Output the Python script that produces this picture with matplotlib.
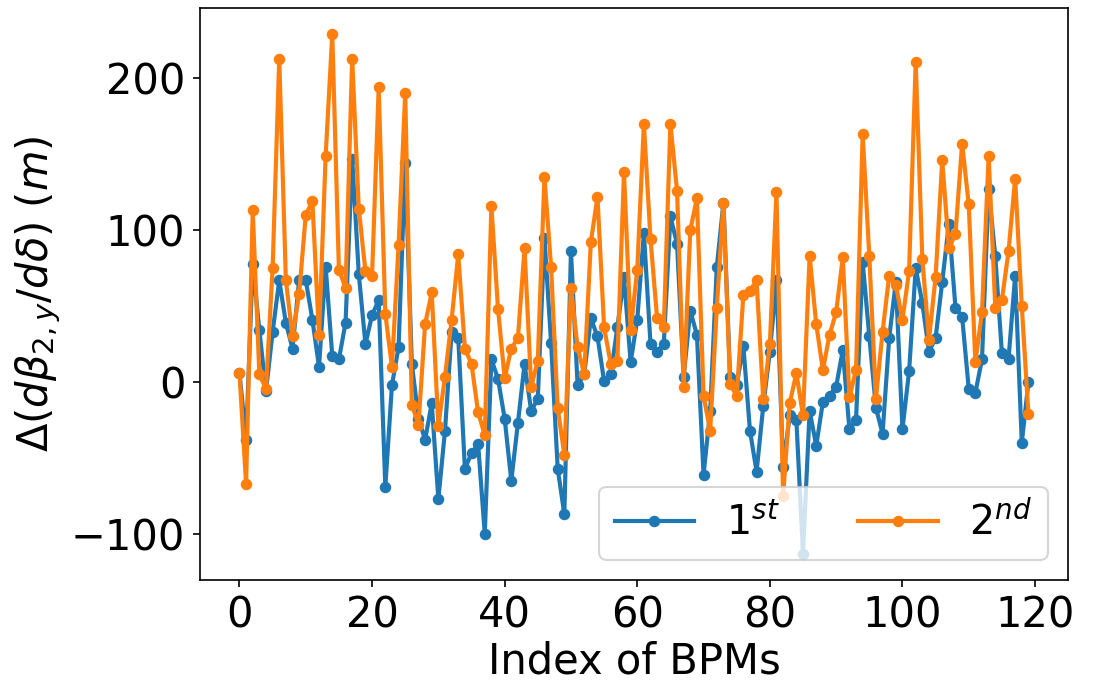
import numpy as np
import matplotlib
matplotlib.use("Agg")
import matplotlib.pyplot as plt
from matplotlib.ticker import MultipleLocator

# first-order values, BPM index 0..119
first = [6, -38, 78, 34, -6, 33, 67, 39, 22, 67,
         67, 41, 10, 76, 17, 15, 39, 147, 71, 25,
         44, 54, -69, -2, 23, 144, 12, -24, -38, -14,
         -77, -32, 33, 29, -57, -47, -41, -100, 15, 2,
         -24, -65, -27, 12, -19, -11, 95, 26, -57, -87,
         86, -2, 5, 42, 30, 0.5, 5, 36, 69, 13,
         41, 98, 25, 20, 25, 109, 91, 3.5, 47, 31,
         -61, -19, 76, 118, 3.5, -2, 24, -32, -59, -16,
         20, 67, -56, -22, -25, -113, -19, -42, -13, -9,
         -3, 21, -31, -25, 79, 30, -17, -34, 29, 66,
         -31, 7, 75, 52, 20, 29, 66, 104, 49, 43,
         -4.5, -7, 15, 127, 83, 19, 15, 70, -40, 0]

second = [6, -67, 113, 5, -4.5, 75, 213, 67, 30, 58,
          110, 119, 31, 149, 229, 74, 62, 213, 114, 73,
          70, 194, 45, 10, 90, 190, -15, -28, 38, 59,
          -29, 3.5, 41, 84, 22, 12, -20, -35, 116, 48,
          2.5, 22, 29, 88, -3, 14, 135, 76, -17, -48,
          62, 23, 5, 92, 122, 36, 12, 14, 138, 34,
          74, 170, 94, 42, 36, 170, 126, -3, 100, 121,
          -9, -32, 49, 118, -1.5, -9, 57, 60, 67, -11,
          25, 125, -75, -14, 6, -22, 83, 38, 8, 31,
          46, 82, -10, 8, 163, 83, -11, 33, 70, 64,
          41, 73, 211, 81, 28, 69, 146, 88, 97.5, 157,
          117, 13, 46, 149, 49, 54, 86, 134, 50, -21]

idx = np.arange(len(first))

fig, ax = plt.subplots(figsize=(1093 / 150, 686 / 150), dpi=150)
fig.subplots_adjust(left=0.183, right=0.977, top=0.988, bottom=0.155)

ax.plot(idx, first, "-o", color="#1f77b4", lw=2, ms=4.5, label=r"$1^{st}$")
ax.plot(idx, second, "-o", color="#ff7f0e", lw=2, ms=4.5, label=r"$2^{nd}$")

ax.xaxis.set_major_locator(MultipleLocator(20))
ax.yaxis.set_major_locator(MultipleLocator(100))
ax.set_xlabel("Index of BPMs", fontsize=20, labelpad=2)
ax.set_ylabel(r"$\Delta(d\beta_{2,y}/d\delta)$ $(m)$", fontsize=20)
ax.tick_params(labelsize=20)
ax.legend(loc="lower right", ncol=2, fontsize=19)

fig.savefig("out.png", dpi=150)
